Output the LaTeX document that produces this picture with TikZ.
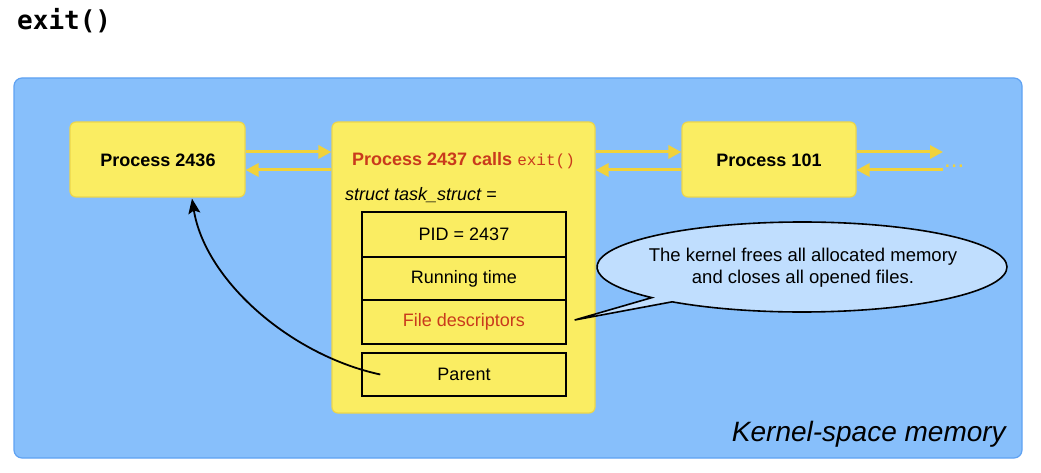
\documentclass[tikz,border=0pt]{standalone}
\usepackage{fontspec}
\setmainfont{Liberation Sans}
\newfontfamily\titlemono{DejaVu Sans Mono}
\newfontfamily\codemono{Liberation Mono}
\usetikzlibrary{arrows.meta,calc}
\definecolor{kblue}{HTML}{87BFFB}
\definecolor{kblueline}{HTML}{5FA2F2}
\definecolor{kyellow}{HTML}{FAED62}
\definecolor{kyellowline}{HTML}{EDD64A}
\definecolor{karrow}{HTML}{F1D23A}
\definecolor{kcallout}{HTML}{C0DEFE}
\definecolor{kred}{HTML}{C93A1C}
\tikzset{
  procbox/.style={draw=kyellowline, fill=kyellow, line width=1.2pt, rounded corners=6pt, inner sep=0pt},
  fieldbox/.style={draw=black, fill=kyellow, line width=1.4pt, inner sep=0pt, minimum width=204pt},
  yarrow/.style={draw=karrow, line width=3pt, -{Triangle[length=13pt,width=13pt]}},
  lbl/.style={font=\fontsize{18}{22}\selectfont, inner sep=0pt},
}
\begin{document}
\begin{tikzpicture}[x=1pt,y=1pt]
\useasboundingbox (0,0) rectangle (1041,-473);
% title
\node[anchor=west, inner sep=0pt, font=\titlemono\bfseries\fontsize{26}{30}\selectfont] (title) at (17,-21) {exit()};
% kernel space
\node[draw=kblueline, fill=kblue, line width=1.2pt, rounded corners=8pt, minimum width=1008pt, minimum height=380pt, inner sep=0pt] (kernel) at (518,-268) {};
\node[anchor=east, inner sep=0pt, font=\itshape\fontsize{28}{32}\selectfont] (klabel) at (1006,-434) {Kernel-space memory};
% process boxes
\node[procbox, minimum width=175pt, minimum height=75pt] (p2436) at (157.5,-159.5) {};
\node[lbl, font=\bfseries\fontsize{18}{22}\selectfont] (l2436) at (158,-160) {Process 2436};
\node[procbox, minimum width=263pt, minimum height=291pt] (p2437) at (463.5,-267.5) {};
\node[procbox, minimum width=174pt, minimum height=75pt] (p101) at (769,-159.5) {};
\node[lbl, font=\bfseries\fontsize{18}{22}\selectfont] (l101) at (769,-160) {Process 101};
% central texts
\node[lbl, font=\bfseries\fontsize{18}{22}\selectfont, text=kred] (t2437) at (463.5,-161) {Process 2437 calls {\codemono\mdseries\fontsize{16}{20}\selectfont exit()}};
\node[lbl, anchor=west, font=\itshape\fontsize{18}{22}\selectfont] (ts) at (345,-195.5) {struct task\_struct =};
\node[fieldbox, minimum height=45pt] (pid) at (464,-234.5) {};
\node[lbl] at (pid.center) {PID = 2437};
\node[fieldbox, minimum height=43pt] (rt) at (464,-278.5) {};
\node[lbl] at (rt.center) {Running time};
\node[fieldbox, minimum height=44pt] (fd) at (464,-322) {};
\node[lbl, text=kred] at (fd.center) {File descriptors};
\node[fieldbox, minimum height=43pt] (par) at (464,-374.5) {};
\node[lbl] at (par.center) {Parent};
% yellow arrows
\draw[yarrow] ([yshift=7.5pt]p2436.east) -- ([yshift=7.5pt]p2436.east -| p2437.west);
\draw[yarrow] ([yshift=-10.5pt]p2436.east -| p2437.west) -- ([yshift=-10.5pt]p2436.east);
\draw[yarrow] ([yshift=7.5pt]p101.west -| p2437.east) -- ([yshift=7.5pt]p101.west);
\draw[yarrow] ([yshift=-10.5pt]p101.west) -- ([yshift=-10.5pt]p101.west -| p2437.east);
\coordinate (r1) at (943,-152);
\coordinate (r2) at (943,-170);
\draw[yarrow] ([yshift=7.5pt]p101.east) -- (r1);
\draw[yarrow] (r2) -- ([yshift=-10.5pt]p101.east);
\node[anchor=base west, inner sep=0pt, text=karrow, font=\fontsize{24}{24}\selectfont] (dots) at (944,-168) {...};
% parent pointer
\coordinate (ps) at ([xshift=19pt]par.west);
\coordinate (pe) at ([xshift=34.5pt,yshift=-1pt]p2436.south);
\draw[line width=1.8pt, -{Stealth[length=15pt,width=12pt,inset=3pt]}] (ps) .. controls (290,-355) and (205,-280) .. (pe);
% callout
\coordinate (co) at (802,-267);
\coordinate (tip) at ([xshift=8pt,yshift=2pt]fd.east);
\draw[fill=kcallout, line width=1.6pt, line join=miter] ($(co)+(230.7:205pt and 45pt)$) arc[start angle=230.7, end angle=582.9, x radius=205pt, y radius=45pt] -- (tip) -- cycle;
\node[lbl, align=center, font=\fontsize{18.5}{22}\selectfont] (ctext) at (803,-268) {The kernel frees all allocated memory\\and closes all opened files.};
\end{tikzpicture}
\end{document}
